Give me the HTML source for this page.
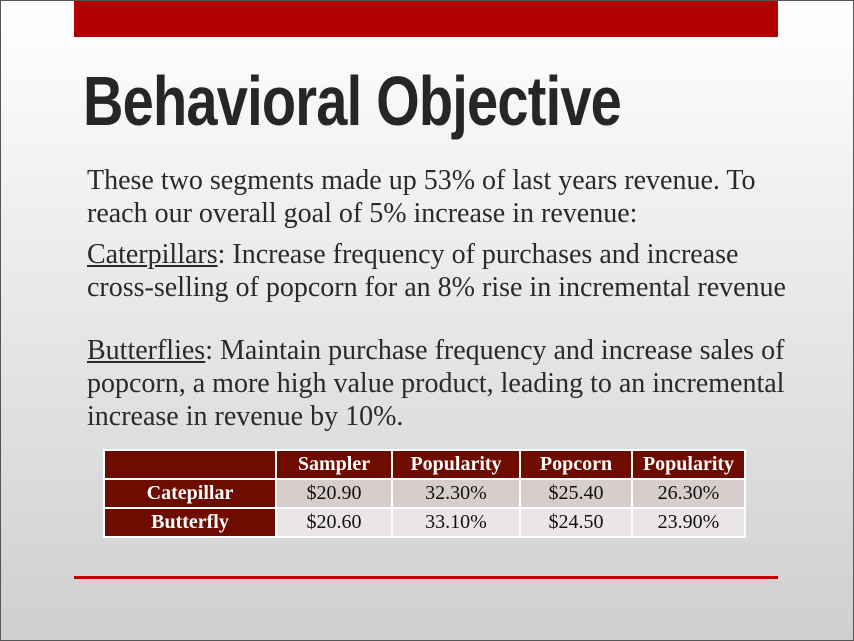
<!DOCTYPE html>
<html><head><meta charset="utf-8"><style>
body{margin:0;width:854px;height:641px;overflow:hidden;}
#slide{position:relative;width:852px;height:639px;border:1px solid #555;background:linear-gradient(#ffffff 0%,#eeeeee 35%,#cfcfcf 100%);font-family:"Liberation Serif",serif;color:#333;}
#topbar{position:absolute;left:73px;top:0;width:704px;height:36px;background:#b00000;}
#title{position:absolute;left:82px;top:60px;font-family:"Liberation Sans",sans-serif;font-weight:bold;font-size:70px;color:#262626;transform:scaleX(0.80);transform-origin:left top;white-space:nowrap;letter-spacing:-1px;}
.p{position:absolute;left:86px;font-size:28px;line-height:33px;color:#2a2a2a;white-space:nowrap;}
u{text-decoration:underline;}
table{position:absolute;left:102px;top:448px;border-collapse:collapse;font-size:20px;}
td{border:2px solid #fff;height:27px;padding:0;text-align:center;}
.h{background:#6e0c00;color:#fff;font-weight:bold;}
.r1{background:#d7cdcd;color:#111;}
.r2{background:#ebe6e6;color:#111;}
#bottom{position:absolute;left:73px;top:575px;width:704px;height:3px;background:#c00000;}
</style></head><body>
<div id="slide">
<div id="topbar"></div>
<div id="title">Behavioral Objective</div>
<div class="p" style="top:163px">These two segments made up 53% of last years revenue. To<br>reach our overall goal of 5% increase in revenue:</div>
<div class="p" style="top:237px"><u>Caterpillars</u>: Increase frequency of purchases and increase<br>cross-selling of popcorn for an 8% rise in incremental revenue</div>
<div class="p" style="top:333px"><u>Butterflies</u>: Maintain purchase frequency and increase sales of<br>popcorn, a more high value product, leading to an incremental<br>increase in revenue by 10%.</div>
<table>
<tr><td class="h" style="width:170px"></td><td class="h" style="width:114px">Sampler</td><td class="h" style="width:126px">Popularity</td><td class="h" style="width:110px">Popcorn</td><td class="h" style="width:111px">Popularity</td></tr>
<tr><td class="h">Catepillar</td><td class="r1">$20.90</td><td class="r1">32.30%</td><td class="r1">$25.40</td><td class="r1">26.30%</td></tr>
<tr><td class="h">Butterfly</td><td class="r2">$20.60</td><td class="r2">33.10%</td><td class="r2">$24.50</td><td class="r2">23.90%</td></tr>
</table>
<div id="bottom"></div>
</div>
</body></html>
